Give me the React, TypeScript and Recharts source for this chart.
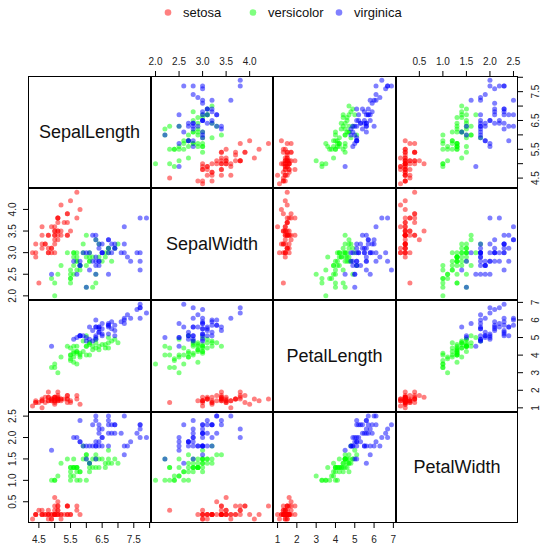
import React from 'react';
import { ScatterChart, Scatter, XAxis, YAxis } from 'recharts';

const speciesNames = ['setosa', 'versicolor', 'virginica'];
const speciesColors = ['#FF0000', '#00FF00', '#0000FF'];
const legendColors = ['#FF8080', '#80FF80', '#8080FF'];

const sepalLength = [
  5.1, 4.9, 4.7, 4.6, 5.0, 5.4, 4.6, 5.0, 4.4, 4.9, 5.4, 4.8, 4.8, 4.3, 5.8, 5.7, 5.4, 5.1, 5.7, 5.1,
  5.4, 5.1, 4.6, 5.1, 4.8, 5.0, 5.0, 5.2, 5.2, 4.7, 4.8, 5.4, 5.2, 5.5, 4.9, 5.0, 5.5, 4.9, 4.4, 5.1,
  5.0, 4.5, 4.4, 5.0, 5.1, 4.8, 5.1, 4.6, 5.3, 5.0,
  7.0, 6.4, 6.9, 5.5, 6.5, 5.7, 6.3, 4.9, 6.6, 5.2, 5.0, 5.9, 6.0, 6.1, 5.6, 6.7, 5.6, 5.8, 6.2, 5.6,
  5.9, 6.1, 6.3, 6.1, 6.4, 6.6, 6.8, 6.7, 6.0, 5.7, 5.5, 5.5, 5.8, 6.0, 5.4, 6.0, 6.7, 6.3, 5.6, 5.5,
  5.5, 6.1, 5.8, 5.0, 5.6, 5.7, 5.7, 6.2, 5.1, 5.7,
  6.3, 5.8, 7.1, 6.3, 6.5, 7.6, 4.9, 7.3, 6.7, 7.2, 6.5, 6.4, 6.8, 5.7, 5.8, 6.4, 6.5, 7.7, 7.7, 6.0,
  6.9, 5.6, 7.7, 6.3, 6.7, 7.2, 6.2, 6.1, 6.4, 7.2, 7.4, 7.9, 6.4, 6.3, 6.1, 7.7, 6.3, 6.4, 6.0, 6.9,
  6.7, 6.9, 5.8, 6.8, 6.7, 6.7, 6.3, 6.5, 6.2, 5.9,
];

const sepalWidth = [
  3.5, 3.0, 3.2, 3.1, 3.6, 3.9, 3.4, 3.4, 2.9, 3.1, 3.7, 3.4, 3.0, 3.0, 4.0, 4.4, 3.9, 3.5, 3.8, 3.8,
  3.4, 3.7, 3.6, 3.3, 3.4, 3.0, 3.4, 3.5, 3.4, 3.2, 3.1, 3.4, 4.1, 4.2, 3.1, 3.2, 3.5, 3.6, 3.0, 3.4,
  3.5, 2.3, 3.2, 3.5, 3.8, 3.0, 3.8, 3.2, 3.7, 3.3,
  3.2, 3.2, 3.1, 2.3, 2.8, 2.8, 3.3, 2.4, 2.9, 2.7, 2.0, 3.0, 2.2, 2.9, 2.9, 3.1, 3.0, 2.7, 2.2, 2.5,
  3.2, 2.8, 2.5, 2.8, 2.9, 3.0, 2.8, 3.0, 2.9, 2.6, 2.4, 2.4, 2.7, 2.7, 3.0, 3.4, 3.1, 2.3, 3.0, 2.5,
  2.6, 3.0, 2.6, 2.3, 2.7, 3.0, 2.9, 2.9, 2.5, 2.8,
  3.3, 2.7, 3.0, 2.9, 3.0, 3.0, 2.5, 2.9, 2.5, 3.6, 3.2, 2.7, 3.0, 2.5, 2.8, 3.2, 3.0, 3.8, 2.6, 2.2,
  3.2, 2.8, 2.8, 2.7, 3.3, 3.2, 2.8, 3.0, 2.8, 3.0, 2.8, 3.8, 2.8, 2.8, 2.6, 3.0, 3.4, 3.1, 3.0, 3.1,
  3.1, 3.1, 2.7, 3.2, 3.3, 3.0, 2.5, 3.0, 3.4, 3.0,
];

const petalLength = [
  1.4, 1.4, 1.3, 1.5, 1.4, 1.7, 1.4, 1.5, 1.4, 1.5, 1.5, 1.6, 1.4, 1.1, 1.2, 1.5, 1.3, 1.4, 1.7, 1.5,
  1.7, 1.5, 1.0, 1.7, 1.9, 1.6, 1.6, 1.5, 1.4, 1.6, 1.6, 1.5, 1.5, 1.4, 1.5, 1.2, 1.3, 1.4, 1.3, 1.5,
  1.3, 1.3, 1.3, 1.6, 1.9, 1.4, 1.6, 1.4, 1.5, 1.4,
  4.7, 4.5, 4.9, 4.0, 4.6, 4.5, 4.7, 3.3, 4.6, 3.9, 3.5, 4.2, 4.0, 4.7, 3.6, 4.4, 4.5, 4.1, 4.5, 3.9,
  4.8, 4.0, 4.9, 4.7, 4.3, 4.4, 4.8, 5.0, 4.5, 3.5, 3.8, 3.7, 3.9, 5.1, 4.5, 4.5, 4.7, 4.4, 4.1, 4.0,
  4.4, 4.6, 4.0, 3.3, 4.2, 4.2, 4.2, 4.3, 3.0, 4.1,
  6.0, 5.1, 5.9, 5.6, 5.8, 6.6, 4.5, 6.3, 5.8, 6.1, 5.1, 5.3, 5.5, 5.0, 5.1, 5.3, 5.5, 6.7, 6.9, 5.0,
  5.7, 4.9, 6.7, 4.9, 5.7, 6.0, 4.8, 4.9, 5.6, 5.8, 6.1, 6.4, 5.6, 5.1, 5.6, 6.1, 5.6, 5.5, 4.8, 5.4,
  5.6, 5.1, 5.1, 5.9, 5.7, 5.2, 5.0, 5.2, 5.4, 5.1,
];

const petalWidth = [
  0.2, 0.2, 0.2, 0.2, 0.2, 0.4, 0.3, 0.2, 0.2, 0.1, 0.2, 0.2, 0.1, 0.1, 0.2, 0.4, 0.4, 0.3, 0.3, 0.3,
  0.2, 0.4, 0.2, 0.5, 0.2, 0.2, 0.4, 0.2, 0.2, 0.2, 0.2, 0.4, 0.1, 0.2, 0.2, 0.2, 0.2, 0.1, 0.2, 0.2,
  0.3, 0.3, 0.2, 0.6, 0.4, 0.3, 0.2, 0.2, 0.2, 0.2,
  1.4, 1.5, 1.5, 1.3, 1.5, 1.3, 1.6, 1.0, 1.3, 1.4, 1.0, 1.5, 1.0, 1.4, 1.3, 1.4, 1.5, 1.0, 1.5, 1.1,
  1.8, 1.3, 1.5, 1.2, 1.3, 1.4, 1.4, 1.7, 1.5, 1.0, 1.1, 1.0, 1.2, 1.6, 1.5, 1.6, 1.5, 1.3, 1.3, 1.3,
  1.2, 1.4, 1.2, 1.0, 1.3, 1.2, 1.3, 1.3, 1.1, 1.3,
  2.5, 1.9, 2.1, 1.8, 2.2, 2.1, 1.7, 1.8, 1.8, 2.5, 2.0, 1.9, 2.1, 2.0, 2.4, 2.3, 1.8, 2.2, 2.3, 1.5,
  2.3, 2.0, 2.0, 1.8, 2.1, 1.8, 1.8, 1.8, 2.1, 1.6, 1.9, 2.0, 2.2, 1.5, 1.4, 2.3, 2.4, 1.8, 1.8, 2.1,
  2.4, 2.3, 1.9, 2.3, 2.5, 2.3, 1.9, 2.0, 2.3, 1.8,
];

const varNames = ['SepalLength', 'SepalWidth', 'PetalLength', 'PetalWidth'];
const varValues = [sepalLength, sepalWidth, petalLength, petalWidth];
const varDomains: [number, number][] = [
  [4.156, 8.044],
  [1.904, 4.496],
  [0.764, 7.136],
  [0.004, 2.596],
];
const varTicks = [
  [4.5, 5.0, 5.5, 6.0, 6.5, 7.0, 7.5, 8.0],
  [2.0, 2.5, 3.0, 3.5, 4.0],
  [1, 2, 3, 4, 5, 6, 7],
  [0.5, 1.0, 1.5, 2.0, 2.5],
];
const varTickLabels = [
  [4.5, 5.5, 6.5, 7.5],
  [2.0, 2.5, 3.0, 3.5, 4.0],
  [1, 2, 3, 4, 5, 6, 7],
  [0.5, 1.0, 1.5, 2.0, 2.5],
];
const varDecimals = [1, 1, 0, 1];

// layout
const colX = [28, 151, 273, 396];
const colW = [123, 122, 123, 122];
const rowY = [76, 188, 300, 412];
const rowH = [112, 112, 112, 111];
const LW = 28;
const RW = 22;
const TH = 30;
const BH = 22;
const PAD = 12;
const FONT = '"Liberation Sans", Arial, Helvetica, sans-serif';

function makeTick(side: 'top' | 'bottom' | 'left' | 'right', v: number) {
  return (props: any) => {
    const { x, y, payload } = props;
    const val = payload.value as number;
    if (!varTickLabels[v].some((l) => Math.abs(l - val) < 1e-9)) return <g />;
    const s = val.toFixed(varDecimals[v]);
    const common = { fontSize: 10, fontFamily: FONT, fill: '#222', textAnchor: 'middle' as const };
    if (side === 'top') {
      return <text x={x} y={y} {...common}>{s}</text>;
    }
    if (side === 'bottom') {
      return <text x={x} y={y + 8} {...common}>{s}</text>;
    }
    return (
      <text x={x} y={y} transform={`rotate(-90 ${x} ${y})`} {...common}>
        {s}
      </text>
    );
  };
}

function Panel({ r, c }: { r: number; c: number }) {
  const hasTop = r === 0 && c % 2 === 1;
  const hasBottom = r === 3 && c % 2 === 0;
  const hasLeft = c === 0 && r % 2 === 1;
  const hasRight = c === 3 && r % 2 === 0;
  const padL = hasLeft ? 0 : PAD;
  const padR = hasRight ? 0 : PAD;
  const padT = hasTop ? 0 : PAD;
  const padB = hasBottom ? 0 : PAD;
  const w = colW[c] + (hasLeft ? LW : 0) + (hasRight ? RW : 0) + padL + padR;
  const h = rowH[r] + (hasTop ? TH : 0) + (hasBottom ? BH : 0) + padT + padB;
  const left = colX[c] - (hasLeft ? LW : 0) - padL;
  const top = rowY[r] - (hasTop ? TH : 0) - padT;
  const xs = varValues[c];
  const ys = varValues[r];
  const seriesData = speciesNames.map((_, s) =>
    xs.slice(s * 50, s * 50 + 50).map((xv, i) => ({ x: xv, y: ys[s * 50 + i] }))
  );
  const tickLine = { stroke: '#000', strokeWidth: 1 };
  return (
    <div style={{ position: 'absolute', left, top, width: w, height: h }}>
      <ScatterChart width={w} height={h} margin={{ top: padT, right: padR, bottom: padB, left: padL }}>
        <XAxis
          type="number"
          dataKey="x"
          domain={varDomains[c]}
          allowDataOverflow
          ticks={varTicks[c]}
          interval={0}
          hide={!(hasTop || hasBottom)}
          orientation={hasTop ? 'top' : 'bottom'}
          height={hasTop ? TH : BH}
          axisLine={false}
          tickLine={tickLine}
          tickSize={5}
          tickMargin={hasTop ? 6 : 7}
          tick={makeTick(hasTop ? 'top' : 'bottom', c)}
        />
        <YAxis
          type="number"
          dataKey="y"
          domain={varDomains[r]}
          allowDataOverflow
          ticks={varTicks[r]}
          interval={0}
          hide={!(hasLeft || hasRight)}
          orientation={hasRight ? 'right' : 'left'}
          width={hasRight ? RW : LW}
          axisLine={false}
          tickLine={tickLine}
          tickSize={5}
          tickMargin={hasRight ? 16 : 7}
          tick={makeTick(hasRight ? 'right' : 'left', r)}
        />
        {speciesNames.map((name, s) => (
          <Scatter
            key={name}
            name={name}
            data={seriesData[s]}
            isAnimationActive={false}
            shape={(p: any) => (
              <circle cx={p.cx} cy={p.cy} r={2.5} fill={speciesColors[s]} fillOpacity={0.5} />
            )}
          />
        ))}
      </ScatterChart>
    </div>
  );
}

export default function App() {
  const cells: React.ReactNode[] = [];
  const boxes: React.ReactNode[] = [];
  for (let r = 0; r < 4; r++) {
    for (let c = 0; c < 4; c++) {
      if (r === c) {
        cells.push(
          <div
            key={`d${r}`}
            style={{
              position: 'absolute',
              left: colX[c],
              top: rowY[r],
              width: colW[c],
              height: rowH[r],
              display: 'flex',
              alignItems: 'center',
              justifyContent: 'center',
              fontFamily: FONT,
              fontSize: 18,
              color: '#111',
            }}
          >
            {varNames[r]}
          </div>
        );
      } else {
        cells.push(<Panel key={`p${r}${c}`} r={r} c={c} />);
      }
      boxes.push(
        <div
          key={`b${r}${c}`}
          style={{
            position: 'absolute',
            left: colX[c],
            top: rowY[r],
            width: colW[c],
            height: rowH[r],
            boxSizing: 'border-box',
            border: '1px solid #000',
            pointerEvents: 'none',
          }}
        />
      );
    }
  }
  const legendDotX = [168, 253, 339];
  const legendTextX = [183, 268, 354];
  return (
    <div style={{ position: 'absolute', left: 0, top: 0, width: 540, height: 545, background: '#fff', overflow: 'hidden' }}>
      <svg style={{ position: 'absolute', left: 0, top: 0 }} width={540} height={30}>
        {speciesNames.map((name, s) => (
          <g key={name}>
            <circle cx={legendDotX[s]} cy={12.5} r={3.3} fill={legendColors[s]} />
            <text x={legendTextX[s]} y={17} fontSize={13} fontFamily={FONT} fill="#111">
              {name}
            </text>
          </g>
        ))}
      </svg>
      {cells}
      {boxes}
    </div>
  );
}
